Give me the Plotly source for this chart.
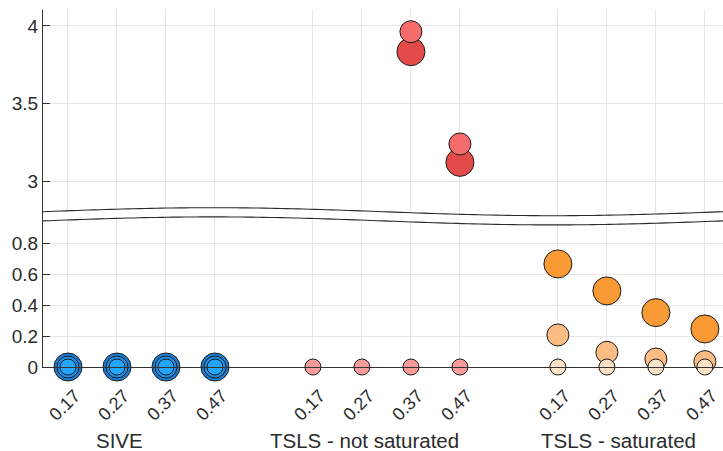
import numpy as np
import plotly.graph_objects as go

# ---------------- data ----------------
tick_labels = ["0.17", "0.27", "0.37", "0.47"]
group_names = ["SIVE", "TSLS - not saturated", "TSLS - saturated"]
group_positions = [[1, 2, 3, 4], [6, 7, 8, 9], [11, 12, 13, 14]]

sive_large = [0.0, 0.0, 0.0, 0.0]
sive_medium = [0.0, 0.0, 0.0, 0.0]
sive_small = [0.0, 0.0, 0.0, 0.0]

tsls_ns_large = [None, None, 3.834, 3.120]
tsls_ns_medium = [None, None, 3.963, 3.239]
tsls_ns_small = [0.0, 0.0, 0.0, 0.0]

tsls_s_large = [0.669, 0.494, 0.353, 0.247]
tsls_s_medium = [0.208, 0.095, 0.052, 0.035]
tsls_s_small = [0.0, 0.0, 0.0, 0.0]

colors = {
    "sive": ["#1b7fd6", "#1d91ea", "#23a6ff"],
    "ns": ["#e34b4b", "#f66c6c", "#fb9b9b"],
    "s": ["#f99a34", "#fbbd83", "#fde2c7"],
}
sizes = [28, 22, 16]

# ---------------- layout geometry ----------------
W, H = 723, 451
ML, MR, MT, MB = 43, 0, 10, 84
plot_h = H - MT - MB
split_px = 216.5  # pixel row where the two panels meet
split = (H - MB - split_px) / plot_h

top_range = [2.771, 4.103]
bot_range = [0.0, 0.977]
break_threshold = 2.0

fig = go.Figure()

series_by_size = [
    [(sive_large, "sive"), (tsls_ns_large, "ns"), (tsls_s_large, "s")],
    [(sive_medium, "sive"), (tsls_ns_medium, "ns"), (tsls_s_medium, "s")],
    [(sive_small, "sive"), (tsls_ns_small, "ns"), (tsls_s_small, "s")],
]
for si, level in enumerate(series_by_size):
    for gi, (vals, key) in enumerate(level):
        xs = group_positions[gi]
        bx = [x for x, v in zip(xs, vals) if v is not None and v < break_threshold]
        by = [v for v in vals if v is not None and v < break_threshold]
        tx = [x for x, v in zip(xs, vals) if v is not None and v >= break_threshold]
        ty = [v for v in vals if v is not None and v >= break_threshold]
        mk = dict(size=sizes[si], color=colors[key][si], line=dict(color="#1a1a1a", width=1))
        if bx:
            fig.add_trace(go.Scatter(x=bx, y=by, mode="markers", marker=mk,
                                     xaxis="x", yaxis="y", cliponaxis=False,
                                     showlegend=False, hoverinfo="x+y"))
        if tx:
            fig.add_trace(go.Scatter(x=tx, y=ty, mode="markers", marker=mk,
                                     xaxis="x2", yaxis="y2", cliponaxis=False,
                                     showlegend=False, hoverinfo="x+y"))

all_pos = [p for g in group_positions for p in g]
all_text = tick_labels * 3
font_fam = "Liberation Sans, Arial, sans-serif"
txt_col = "#2b2b2b"
grid_col = "#e6e6e6"
axis_col = "#333333"

xrange_ = [0.49, 14.37]
fig.update_layout(
    width=W, height=H,
    margin=dict(l=ML, r=MR, t=MT, b=MB),
    paper_bgcolor="white", plot_bgcolor="white",
    font=dict(family=font_fam, size=19, color=txt_col),
    xaxis=dict(domain=[0, 1], range=xrange_, anchor="y", tickvals=all_pos, ticktext=all_text,
               tickangle=-45, showgrid=True, gridcolor=grid_col, gridwidth=1,
               showline=True, linecolor=axis_col, linewidth=1.2, zeroline=False,
               ticks="", ticklabelstandoff=10, ticklabelshift=7, ticklabeloverflow="allow",
               tickfont=dict(size=18, color=txt_col)),
    xaxis2=dict(domain=[0, 1], range=xrange_, anchor="y2", matches="x", tickvals=all_pos,
                showticklabels=False, showgrid=True, gridcolor=grid_col, gridwidth=1,
                showline=False, zeroline=False, ticks=""),
    yaxis=dict(domain=[0, split], range=bot_range, anchor="x",
               tickvals=[0, 0.2, 0.4, 0.6, 0.8], ticktext=["0", "0.2", "0.4", "0.6", "0.8"],
               showgrid=True, gridcolor=grid_col, gridwidth=1, zeroline=False,
               showline=True, linecolor=axis_col, linewidth=1.2,
               ticks="inside", ticklen=7, tickcolor=axis_col, tickwidth=1.2,
               tickfont=dict(size=19, color=txt_col)),
    yaxis2=dict(domain=[split, 1], range=top_range, anchor="x2",
                tickvals=[3, 3.5, 4], ticktext=["3", "3.5", "4"],
                showgrid=True, gridcolor=grid_col, gridwidth=1, zeroline=False,
                showline=True, linecolor=axis_col, linewidth=1.2,
                ticks="inside", ticklen=7, tickcolor=axis_col, tickwidth=1.2,
                tickfont=dict(size=19, color=txt_col)),
)

# ---------------- axis break (wavy band) ----------------
plot_w = W - ML - MR
xp = np.linspace(0, plot_w, 121)
wave = 4.0 * np.sin(2 * np.pi * xp / plot_w)
upper_px = 211.7 - wave
lower_px = 220.9 - wave


def to_paper_y(ypx):
    return (H - MB - ypx) / plot_h


xs_paper = xp / plot_w
up = to_paper_y(upper_px)
lo = to_paper_y(lower_px)

fill_path = "M " + " L ".join(f"{x:.5f},{y:.5f}" for x, y in zip(xs_paper, up))
fill_path += " L " + " L ".join(f"{x:.5f},{y:.5f}" for x, y in zip(xs_paper[::-1], lo[::-1])) + " Z"
fig.add_shape(type="path", path=fill_path, xref="paper", yref="paper",
              fillcolor="white", line=dict(width=0), layer="above")
for arr in (up, lo):
    p = "M " + " L ".join(f"{x:.5f},{y:.5f}" for x, y in zip(xs_paper, arr))
    fig.add_shape(type="path", path=p, xref="paper", yref="paper",
                  line=dict(color="#2a2a2a", width=1.1), layer="above")

# ---------------- group labels ----------------
label_x = [2.06, 7.06, 12.24]
for name, lx in zip(group_names, label_x):
    fig.add_annotation(x=lx, y=0, xref="x", yref="paper", text=name, showarrow=False,
                       yanchor="middle", xanchor="center", yshift=-73,
                       font=dict(size=20.5, color=txt_col, family=font_fam))

fig.write_html("out.html", config={"displayModeBar": False},
               post_script="document.body.style.margin='0';document.body.style.overflow='hidden';")
